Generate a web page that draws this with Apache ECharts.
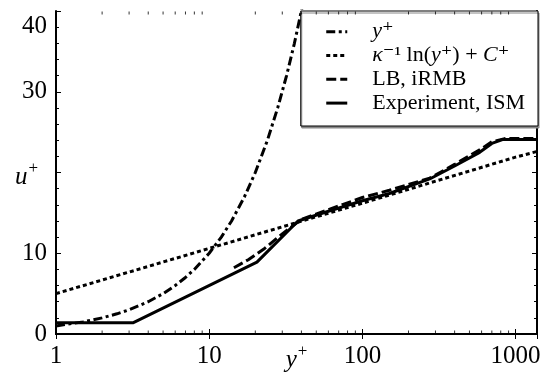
<!DOCTYPE html>
<html>
<head>
<meta charset="utf-8">
<script src="https://cdn.jsdelivr.net/npm/echarts@6/dist/echarts.min.js"></script>
<style>
  html, body { margin: 0; padding: 0; background: #fff; }
  #chart { width: 544px; height: 374px; }
</style>
</head>
<body>
<div id="chart"></div>
<script>
// values //
const yPlusX = [1, 1.5, 2, 2.5, 3, 4, 5, 6, 7, 8, 10, 12, 14, 17, 20, 24, 28, 32, 36, 41]
const yPlusU = [1, 1.5, 2, 2.5, 3, 4, 5, 6, 7, 8, 10, 12, 14, 17, 20, 24, 28, 32, 36, 41]
const logLawX = [1, 10, 100, 1000, 1380]
const logLawU = [5.0, 10.6, 16.2, 21.9, 22.6]
const lbX = [14.5, 18, 23, 30, 40, 60, 100, 150, 275, 400, 583, 700, 850, 1380]
const lbU = [8.2, 9.2, 10.6, 12.4, 14.2, 15.4, 16.9, 17.8, 19.3, 21.0, 22.8, 23.8, 24.2, 24.2]
const expX = [1, 3.2, 20.5, 38, 60, 100, 150, 275, 400, 583, 700, 830, 1380]
const expU = [1.4, 1.4, 8.9, 14.0, 15.2, 16.5, 17.4, 19.2, 20.8, 22.5, 23.6, 24.1, 24.1]
const xMajorLabels = [1, 10, 100, 1000]
const xMinorTicks = [2, 3, 4, 5, 6, 7, 8, 9, 20, 30, 40, 50, 60, 70, 80, 90, 200, 300, 400, 500, 600, 700, 800, 900]
const yTickLabels = ['0', '10', '', '30', '40']

const X_MAX = 1380
const Y_MAX = 40
const FONT = '"Liberation Serif", "DejaVu Serif", serif'

const pairs = (xs, ys) => xs.map((x, i) => [x, ys[i]])

// unicode superscripts in the legend keep every row the same height
const legendText = {
  'y+': '{p|}{i|y}⁺',
  'log law': '{p|}{i|κ}⁻¹ ln({i|y}⁺) + {i|C}⁺',
  'LB, iRMB': '{p|}LB, iRMB',
  'Experiment, ISM': '{p|}Experiment, ISM'
}

const chart = echarts.init(document.getElementById('chart'), null, { renderer: 'canvas' })

const axisLine = { show: true, lineStyle: { color: '#000', width: 2 } }
// superscript: small content box at the top of a token as tall as the line
const supRich = (size, supSize, supBox) => ({
  i: { fontStyle: 'italic', fontSize: size, lineHeight: size, fontFamily: FONT, color: '#000' },
  s: { fontSize: supSize, lineHeight: supBox, fontFamily: FONT, color: '#000', padding: [0, 0, size - supBox, 1] }
})

chart.setOption({
  animation: false,
  backgroundColor: '#fff',
  textStyle: { fontFamily: FONT, color: '#000' },
  grid: { left: 56, top: 11, right: 7, bottom: 40, containLabel: false, outerBoundsMode: 'none' },
  legend: {
    data: ['y+', 'log law', 'LB, iRMB', 'Experiment, ISM'],
    orient: 'vertical',
    right: 6,
    top: 11,
    padding: [9.7, 13, 11.9, 24],
    itemWidth: 21,
    itemHeight: 14,
    itemGap: 1.8,
    backgroundColor: '#fff',
    borderColor: '#000',
    borderWidth: 1,
    borderRadius: 0,
    shadowColor: '#888',
    shadowBlur: 0,
    shadowOffsetX: 1,
    shadowOffsetY: 2,
    itemStyle: { opacity: 0 },
    lineStyle: { width: 3, color: '#000' },
    formatter: name => legendText[name],
    textStyle: {
      fontFamily: FONT,
      color: '#000',
      fontSize: 22,
      lineHeight: 22,
      rich: {
        p: { width: 20, lineHeight: 22 },
        i: { fontStyle: 'italic', fontSize: 22, lineHeight: 22, fontFamily: FONT, color: '#000' }
      }
    }
  },
  xAxis: [
    {
      type: 'log',
      logBase: 10,
      min: 1,
      max: X_MAX,
      position: 'bottom',
      axisLine,
      axisTick: { inside: true, length: 5, lineStyle: { color: '#000', width: 1 } },
      splitLine: { show: false },
      axisLabel: {
        margin: 10,
        fontSize: 25,
        fontFamily: FONT,
        color: '#000',
        showMaxLabel: false,
        formatter: v => {
          const r = Math.round(v)
          return xMajorLabels.includes(r) ? String(r) : ''
        }
      },
      name: '{i|y}{s|+}',
      nameLocation: 'middle',
      nameGap: 14,
      nameMoveOverlap: false,
      nameTextStyle: { rich: supRich(25, 17, 8) }
    },
    {
      type: 'log',
      logBase: 10,
      min: 1,
      max: X_MAX,
      position: 'top',
      axisLine,
      axisTick: { inside: true, length: 5, lineStyle: { color: '#000', width: 1 } },
      axisLabel: { show: false },
      splitLine: { show: false }
    }
  ],
  yAxis: [
    {
      type: 'value',
      min: 0,
      max: Y_MAX,
      interval: 10,
      position: 'left',
      axisLine,
      axisTick: { inside: true, length: 5, lineStyle: { color: '#000', width: 1 } },
      minorTick: { show: true, splitNumber: 5, length: 3, lineStyle: { color: '#000', width: 1 } },
      splitLine: { show: false },
      axisLabel: {
        margin: 9,
        fontSize: 25,
        fontFamily: FONT,
        color: '#000',
        formatter: (v, i) => {
          const t = yTickLabels[i] || ''
          return v === Y_MAX ? '{t|' + t + '}' : t
        },
        rich: {
          t: { fontSize: 25, fontFamily: FONT, color: '#000', padding: [30, 0, 0, 0] }
        }
      },
      name: '{i|u}{s|+}',
      nameLocation: 'middle',
      nameRotate: 0,
      nameGap: 18,
      nameMoveOverlap: false,
      nameTextStyle: { padding: [10, 0, 0, 0], rich: supRich(25, 17, 8) }
    },
    {
      type: 'value',
      min: 0,
      max: Y_MAX,
      interval: 10,
      position: 'right',
      axisLine,
      axisTick: { inside: true, length: 5, lineStyle: { color: '#000', width: 1 } },
      minorTick: { show: true, splitNumber: 5, length: 3, lineStyle: { color: '#000', width: 1 } },
      splitLine: { show: false },
      axisLabel: { show: false }
    }
  ],
  series: [
    {
      name: 'y+',
      type: 'line',
      data: pairs(yPlusX, yPlusU),
      symbol: 'none',
      itemStyle: { color: '#000' },
      lineStyle: { color: '#000', width: 3, type: [9, 3.5, 3, 3.5] },
      z: 3
    },
    {
      name: 'log law',
      type: 'line',
      data: pairs(logLawX, logLawU),
      symbol: 'none',
      itemStyle: { color: '#000' },
      lineStyle: { color: '#000', width: 3, type: [4, 3] },
      z: 3
    },
    {
      name: 'LB, iRMB',
      type: 'line',
      data: pairs(lbX, lbU),
      symbol: 'none',
      itemStyle: { color: '#000' },
      lineStyle: { color: '#000', width: 3, type: [10, 4] },
      z: 4
    },
    {
      name: 'Experiment, ISM',
      type: 'line',
      data: pairs(expX, expU),
      symbol: 'none',
      itemStyle: { color: '#000' },
      lineStyle: { color: '#000', width: 3 },
      z: 4
    },
    {
      // minor ticks of the log axis, bottom and top
      name: 'minor bottom',
      type: 'scatter',
      silent: true,
      clip: false,
      data: xMinorTicks.map(v => [v, 0]),
      symbol: 'rect',
      symbolSize: [1, 3],
      symbolOffset: [0, -2],
      itemStyle: { color: '#000' },
      z: 5
    },
    {
      name: 'minor top',
      type: 'scatter',
      silent: true,
      clip: false,
      data: xMinorTicks.map(v => [v, Y_MAX]),
      symbol: 'rect',
      symbolSize: [1, 3],
      symbolOffset: [0, 2],
      itemStyle: { color: '#000' },
      z: 5
    }
  ]
})
</script>
</body>
</html>
